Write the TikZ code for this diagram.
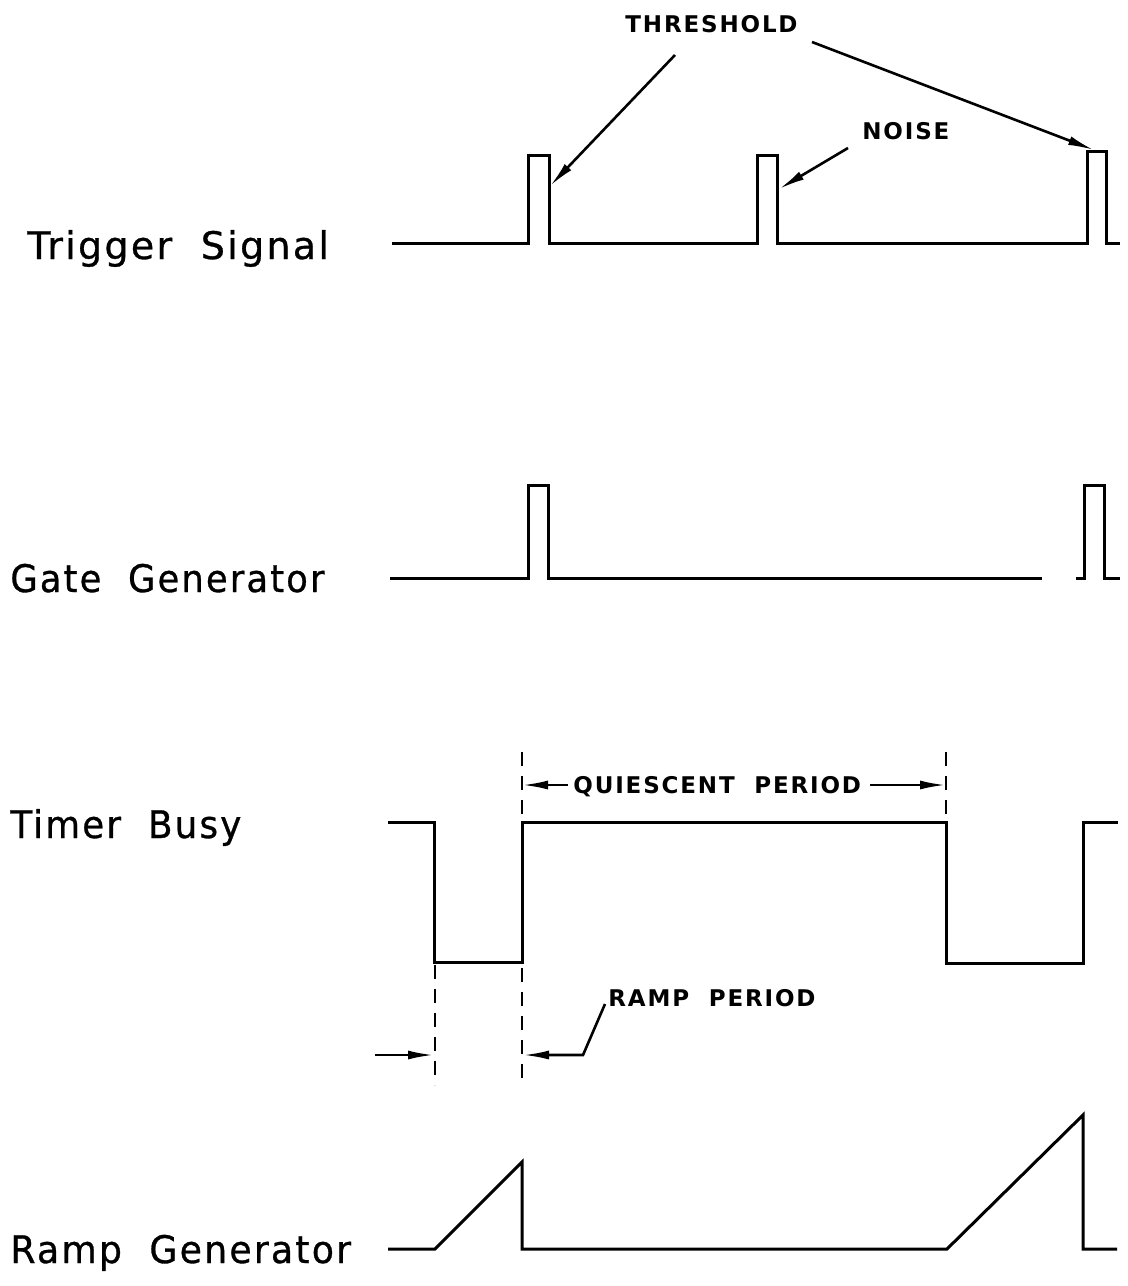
\documentclass[tikz,border=0pt]{standalone}
\usepackage{fontspec}
\usepackage{graphicx}
\setmainfont{DejaVu Sans}
\usetikzlibrary{arrows.meta}
\newfontfamily\bigfont[LetterSpace=6,FakeBold=0.8]{DejaVu Sans}
\newfontfamily\smallfont[LetterSpace=8]{DejaVu Sans Bold}
\begin{document}
\begin{tikzpicture}[x=0.5pt,y=-0.5pt,
  wave/.style={line width=1.5pt,line join=miter},
  dash line/.style={line width=1pt,dash pattern=on 7pt off 5pt},
  lbl/.style={anchor=base west,inner sep=0pt,font=\bigfont\fontsize{19}{19}\selectfont},
  note/.style={anchor=base west,inner sep=0pt,font=\smallfont\fontsize{11.5}{11.5}\selectfont},
  ptr/.style={line width=1.3pt,-{Latex[length=13pt,width=4.5pt]}}]
\useasboundingbox (0,0) rectangle (1128,1286);
% labels
\node[lbl] (ltrig) at (27,259) {Trigger\ \ Signal};
\node[lbl] (lgate) at (10,592) {\scalebox{0.93}[1]{Gate\ \ Generator}};
\node[lbl] (ltimer) at (10,838) {\scalebox{0.94}[1]{Timer\ \ Busy}};
\node[lbl] (lramp) at (10,1263) {\scalebox{0.955}[1]{Ramp\ \ Generator}};
\node[note] (thr) at (625,32) {THRESHOLD};
\node[note] (noise) at (862,139) {NOISE};
\node[note] (quies) at (573,793) {QUIESCENT\ \ PERIOD};
\node[note] (rampp) at (608,1006) {RAMP\ \ PERIOD};
% trigger signal
\draw[wave] (392,243) -- (528,243) -- (528,155) -- (549,155) -- (549,243)
  -- (757,243) -- (757,155) -- (777,155) -- (777,243)
  -- (1087,243) -- (1087,151) -- (1106,151) -- (1106,243) -- (1120,243);
% gate generator
\draw[wave] (390,578) -- (528,578) -- (528,485) -- (548,485) -- (548,578) -- (1042,578);
\draw[wave] (1076,578) -- (1084,578) -- (1084,485) -- (1104,485) -- (1104,578) -- (1120,578);
% timer busy
\draw[wave] (388,822) -- (434,822) -- (434,962) -- (522,962) -- (522,822)
  -- (946,822) -- (946,963) -- (1083,963) -- (1083,822) -- (1118,822);
% ramp generator
\draw[wave] (388,1249) -- (435,1249) -- (522,1162) -- (522,1249)
  -- (947,1249) -- (1083,1115) -- (1083,1249) -- (1117,1249);
% dashed guides
\draw[dash line] (522,752) -- (522,1085);
\draw[dash line] (946,752) -- (946,822);
\draw[dash line] (435,965) -- (435,1085);
% pointer coordinates
\coordinate (thrA) at (675,55);
\coordinate (thrB) at (812,42);
\coordinate (p1) at (550,186);
\coordinate (p3) at (1094,150);
\coordinate (nA) at (848,148);
\coordinate (p2) at (779,189);
\coordinate (qL) at (522,785);
\coordinate (qR) at (946,785);
\coordinate (qLs) at (568,785);
\coordinate (qRs) at (870,785);
\coordinate (rA) at (605,1004);
\coordinate (rB) at (583,1055);
\coordinate (rT) at (523,1055);
\coordinate (lA) at (375,1055);
\coordinate (lT) at (434,1055);
% pointers
\draw[ptr] (thrA) -- (p1);
\draw[ptr] (thrB) -- (p3);
\draw[ptr] (nA) -- (p2);
\draw[ptr] (qLs) -- (qL);
\draw[ptr] (qRs) -- (qR);
\draw[ptr] (rA) -- (rB) -- (rT);
\draw[ptr] (lA) -- (lT);
\end{tikzpicture}
\end{document}
